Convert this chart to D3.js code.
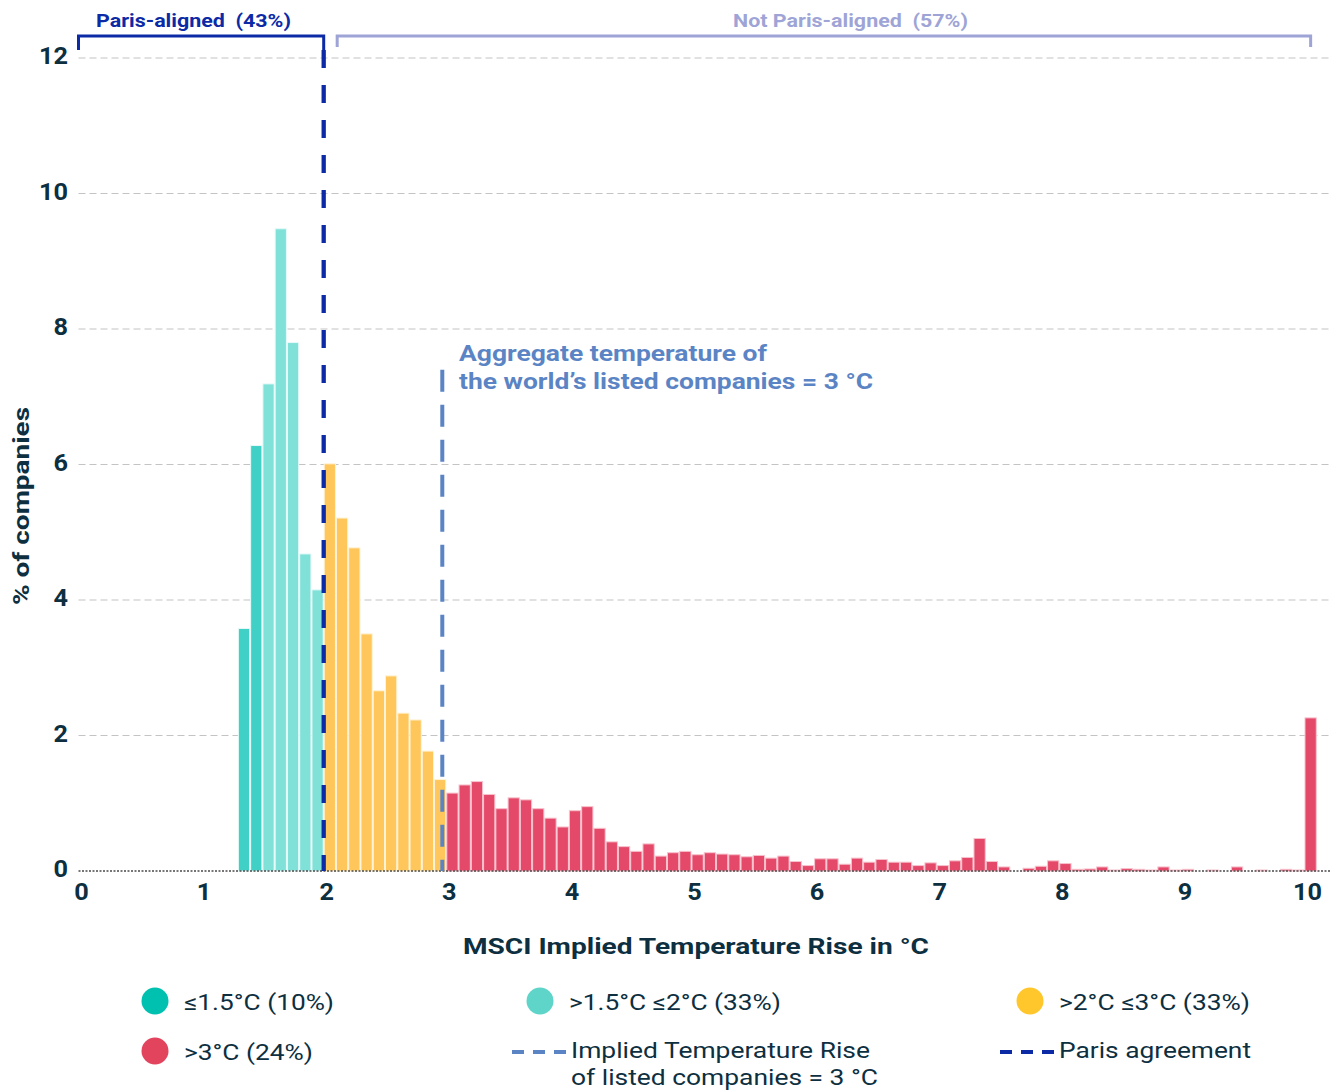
<!DOCTYPE html>
<html>
<head>
<meta charset="utf-8">
<script src="https://cdn.jsdelivr.net/npm/d3@7"></script>
<style>
  html, body { margin: 0; padding: 0; background: #ffffff; }
  svg text { font-family: Roboto, "Noto Sans", sans-serif; }
</style>
</head>
<body>
<svg id="chart" width="1337" height="1091"></svg>
<script>
// ---------- data ----------
const binStarts = [1.3,1.4,1.5,1.6,1.7,1.8,1.9,
  2.0,2.1,2.2,2.3,2.4,2.5,2.6,2.7,2.8,2.9,
  3.0,3.1,3.2,3.3,3.4,3.5,3.6,3.7,3.8,3.9,
  4.0,4.1,4.2,4.3,4.4,4.5,4.6,4.7,4.8,4.9,
  5.0,5.1,5.2,5.3,5.4,5.5,5.6,5.7,5.8,5.9,
  6.0,6.1,6.2,6.3,6.4,6.5,6.6,6.7,6.8,6.9,
  7.0,7.1,7.2,7.3,7.4,7.5,7.6,7.7,7.8,7.9,
  8.0,8.1,8.2,8.3,8.4,8.5,8.6,8.7,8.8,8.9,
  9.0,9.1,9.2,9.3,9.4,9.5,9.6,9.7,9.8,9.9,
  10.0];
const shares = [3.58,6.28,7.19,9.48,7.80,4.68,4.15,
  6.01,5.21,4.77,3.50,2.66,2.88,2.33,2.23,1.77,1.35,
  1.15,1.27,1.32,1.13,0.92,1.08,1.05,0.92,0.78,0.65,
  0.89,0.95,0.63,0.43,0.36,0.29,0.40,0.22,0.27,0.29,
  0.24,0.27,0.25,0.24,0.21,0.23,0.19,0.22,0.14,0.08,
  0.18,0.18,0.10,0.19,0.13,0.17,0.13,0.13,0.08,0.12,
  0.08,0.15,0.20,0.48,0.14,0.06,0,0.04,0.07,0.15,
  0.11,0.025,0.03,0.06,0.015,0.035,0.025,0.015,0.06,0.015,
  0.025,0,0.015,0,0.06,0,0.015,0,0.025,0.015,
  2.26];
const binWidth = 0.1;
const categoryUpperBounds = [1.5, 2.0, 3.0, Infinity];
const categoryLabels = ["≤1.5°C (10%)", ">1.5°C ≤2°C (33%)", ">2°C ≤3°C (33%)", ">3°C (24%)"];
const xTicks = [0,1,2,3,4,5,6,7,8,9,10];
const yTicks = [0,2,4,6,8,10,12];
const parisValue = 2;
const impliedValue = 3;
const impliedLineTop = 7.4;
const bracketLabels = ["Paris-aligned  (43%)", "Not Paris-aligned  (57%)"];
const bracketRanges = [[0, 2], [2.11, 10.05]];
const annotationLines = ["Aggregate temperature of", "the world’s listed companies = 3 °C"];
const lineLegend = [["Implied Temperature Rise", "of listed companies = 3 °C"], ["Paris agreement"]];

// ---------- styles ----------
const barColors = ["#40d0c6", "#80e1d9", "#ffc75b", "#e4496a"];
const barStrokes = ["#e6faf8", "#e6faf8", "#fff3d6", "#f7c2cd"];
const legendColors = ["#00c0b0", "#5fd4c9", "#ffc72c", "#e2445e"];
const textDark = "#0d2f3f";
const parisColor = "#0c2aa6";
const impliedColor = "#5b84c4";
const notParisColor = "#9ea4d6";

// rendered widths of texts (px), to match the original typeface proportions
const categoryLabelWidths = [150, 212, 191, 129];
const lineLegendWidths = [[299, 307], [192]];
const annotationWidths = [308, 414];
const bracketLabelWidths = [195, 235];
const digitWidth = 14.5;

function fit(sel, w) {
  return sel.attr("textLength", w).attr("lengthAdjust", "spacingAndGlyphs");
}

const svg = d3.select("#chart");
const x = d3.scaleLinear().domain([0, 10.22]).range([78.5, 78.5 + 10.22 * 122.6]);
const y = d3.scaleLinear().domain([0, 12]).range([871, 58]);

// gridlines
svg.append("g").selectAll("line").data(yTicks.filter(d => d > 0)).join("line")
  .attr("x1", x(0)).attr("x2", x(10.22))
  .attr("y1", d => y(d)).attr("y2", d => y(d))
  .attr("stroke", "#c4c4c4").attr("stroke-width", 1.2)
  .attr("stroke-dasharray", "7,4");

// bars
function cat(v) { return categoryUpperBounds.findIndex(b => v + 1e-9 < b); }
const data = binStarts.map((b, i) => ({ b, v: shares[i], c: cat(b) }));
svg.append("g").selectAll("rect").data(data.filter(d => d.v > 0)).join("rect")
  .attr("x", d => x(d.b) + 0.5)
  .attr("width", d => x(d.b + binWidth) - x(d.b) - 1)
  .attr("y", d => y(d.v))
  .attr("height", d => y(0) - y(d.v))
  .attr("fill", d => barColors[d.c])
  .attr("stroke", d => barStrokes[d.c])
  .attr("stroke-width", 1);

// baseline
svg.append("line")
  .attr("x1", x(0)).attr("x2", x(10.22)).attr("y1", y(0)).attr("y2", y(0))
  .attr("stroke", "#4a4a4a").attr("stroke-width", 1.6)
  .attr("stroke-dasharray", "2,1.5");

// reference lines
svg.append("line")
  .attr("x1", x(parisValue)).attr("x2", x(parisValue))
  .attr("y1", 36).attr("y2", y(0))
  .attr("stroke", parisColor).attr("stroke-width", 4.3)
  .attr("stroke-dasharray", "18,17").attr("stroke-dashoffset", -14);
svg.append("line")
  .attr("x1", x(impliedValue) - 4).attr("x2", x(impliedValue) - 4)
  .attr("y1", y(impliedLineTop)).attr("y2", y(0))
  .attr("stroke", impliedColor).attr("stroke-width", 4)
  .attr("stroke-dasharray", "22,13");

// annotation
annotationLines.forEach((line, i) => {
  fit(svg.append("text")
    .attr("x", 459).attr("y", 361 + i * 28)
    .attr("fill", impliedColor).attr("font-weight", 700).attr("font-size", 21.5)
    .text(line), annotationWidths[i]);
});

// brackets
const bracketColors = [parisColor, notParisColor];
bracketRanges.forEach((r, i) => {
  const x1 = x(r[0]), x2 = x(r[1]);
  svg.append("path")
    .attr("d", `M${x1},${i === 0 ? 50 : 47}V36H${x2}V${i === 0 ? 50 : 47}`)
    .attr("fill", "none").attr("stroke", bracketColors[i]).attr("stroke-width", 3);
  fit(svg.append("text")
    .attr("x", i === 0 ? 193.5 : 850.5).attr("y", 27)
    .attr("text-anchor", "middle")
    .attr("fill", bracketColors[i]).attr("font-weight", 700).attr("font-size", 18)
    .style("white-space", "pre")
    .text(bracketLabels[i]), bracketLabelWidths[i]);
});

// y axis labels
svg.append("g").selectAll("text").data(yTicks).join("text")
  .attr("x", 68).attr("y", d => y(d) + 6)
  .attr("text-anchor", "end")
  .attr("fill", textDark).attr("font-weight", 700).attr("font-size", 23)
  .attr("textLength", d => String(d).length * digitWidth)
  .attr("lengthAdjust", "spacingAndGlyphs")
  .text(d => d);

// x axis labels
svg.append("g").selectAll("text").data(xTicks).join("text")
  .attr("x", d => x(d) + 3).attr("y", 900)
  .attr("text-anchor", "middle")
  .attr("fill", textDark).attr("font-weight", 700).attr("font-size", 23)
  .attr("textLength", d => String(d).length * digitWidth)
  .attr("lengthAdjust", "spacingAndGlyphs")
  .text(d => d);

// axis titles
fit(svg.append("text")
  .attr("transform", "translate(29,506) rotate(-90)")
  .attr("text-anchor", "middle")
  .attr("fill", textDark).attr("font-weight", 700).attr("font-size", 22.5)
  .text("% of companies"), 198);
fit(svg.append("text")
  .attr("x", 696).attr("y", 954)
  .attr("text-anchor", "middle")
  .attr("fill", textDark).attr("font-weight", 700).attr("font-size", 22.5)
  .text("MSCI Implied Temperature Rise in °C"), 466);

// legend - categories
const legendPos = [[155, 1001], [540, 1001], [1030, 1001], [155, 1051]];
categoryLabels.forEach((lab, i) => {
  const [cx, cy] = legendPos[i];
  svg.append("circle").attr("cx", cx).attr("cy", cy).attr("r", 13.5)
    .attr("fill", legendColors[i]);
  fit(svg.append("text").attr("x", cx + 29).attr("y", cy + 8.5)
    .attr("fill", textDark).attr("font-size", 22.5)
    .text(lab), categoryLabelWidths[i]);
});

// legend - lines
const lineLegendPos = [[512, 1052], [1000, 1052]];
const lineLegendColors = [impliedColor, parisColor];
lineLegend.forEach((lines, i) => {
  const [lx, ly] = lineLegendPos[i];
  svg.append("line").attr("x1", lx).attr("x2", lx + 54).attr("y1", ly).attr("y2", ly)
    .attr("stroke", lineLegendColors[i]).attr("stroke-width", 4)
    .attr("stroke-dasharray", "12,9");
  lines.forEach((t, j) => {
    fit(svg.append("text").attr("x", lx + 59).attr("y", ly + 6 + j * 27)
      .attr("fill", textDark).attr("font-size", 22.5)
      .text(t), lineLegendWidths[i][j]);
  });
});
</script>
</body>
</html>
